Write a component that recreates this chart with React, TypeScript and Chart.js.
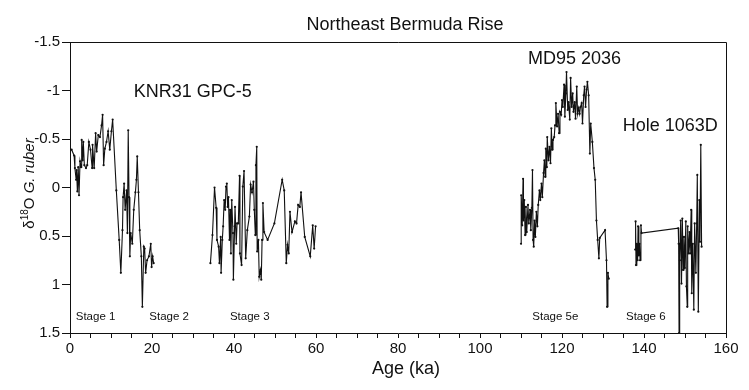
import React, { useEffect, useRef } from "react";
import { Chart, registerables } from "chart.js";

Chart.register(...registerables);

const knrAge = [0.4,1.0,1.2,1.5,1.6,1.8,2.0,2.2,2.45,2.7,2.85,3.1,3.25,3.5,3.9,4.2,4.6,5.0,5.4,5.5,5.9,6.25,6.5,6.9,7.3,7.7,7.95,8.2,8.5,8.9,9.3,9.7,10.1,10.4,11.3,12.0,12.4,12.8,12.95,13.2,13.45,13.8,14.0,14.2,14.4,14.6,14.8,15.2,15.55,15.95,16.2,16.4,16.7,17.0,17.4,17.65,18.0,18.2,18.45,18.8,19.25,19.7,19.9,20.15,20.4];
const knrD18O = [-0.39,-0.33,-0.20,-0.08,-0.18,0.04,-0.21,0.08,-0.27,-0.21,-0.49,-0.28,-0.47,-0.23,-0.20,-0.23,-0.47,-0.39,-0.20,-0.44,-0.20,-0.56,-0.37,-0.54,-0.52,-0.64,-0.75,-0.23,-0.40,-0.47,-0.58,-0.39,-0.58,-0.70,0.03,0.54,0.88,0.44,0.10,-0.04,0.23,0.03,0.47,-0.59,0.10,0.71,0.47,0.58,0.23,0.05,-0.08,-0.32,0.05,0.44,0.71,1.23,0.61,0.63,0.88,0.75,0.71,0.58,0.82,0.71,0.78];

const stage3Age = [34.25,34.75,35.25,35.65,35.85,36.25,36.45,36.75,36.85,37.15,37.35,37.6,37.85,38.05,38.25,38.45,38.65,38.9,39.05,39.25,39.45,39.75,39.85,40.15,40.25,40.55,40.75,41.05,41.35,41.45,41.85,42.15,42.45,42.85,43.25,43.75,44.05,44.4,44.75,44.95,45.2,45.35,45.55,45.65,45.95,46.15,46.45,46.65,46.85,47.05,47.35,48.2,49.85,51.75,52.25,52.75,53.05,53.35,53.65,54.15,54.85,55.25,55.65,56.05,56.35,57.25,58.6,59.2,59.55,59.9];
const stage3D18O = [0.78,0.49,0.0,0.21,0.54,0.61,0.78,0.51,0.88,0.54,0.40,0.13,0.23,-0.01,-0.04,0.20,0.10,0.54,0.23,0.68,0.13,0.47,0.95,0.40,0.20,0.58,0.37,0.37,-0.12,0.68,0.80,-0.01,-0.17,0.73,0.44,0.30,-0.03,0.05,-0.06,0.23,0.49,-0.23,-0.42,0.66,0.54,0.92,0.85,0.95,0.54,0.16,0.46,0.54,0.37,-0.08,0.03,0.78,0.59,0.68,0.25,0.46,0.35,0.37,0.18,0.20,0.05,0.51,0.71,0.39,0.63,0.40];

const mdAge = [110.0,110.05,110.3,110.5,110.6,110.8,111.0,111.2,111.4,111.7,111.9,112.2,112.4,112.65,112.8,112.95,113.1,113.3,113.5,113.75,114.0,114.2,114.5,114.7,115.0,115.2,115.5,115.7,115.9,116.05,116.3,116.4,116.7,116.95,117.2,117.4,117.6,117.8,118.1,118.3,118.5,118.8,119.05,119.3,119.5,119.8,120.0,120.2,120.5,120.7,120.95,121.1,121.4,121.6,121.9,122.1,122.35,122.6,122.8,123.1,123.3,123.6,123.8,124.05,124.3,124.5,124.8,125.0,125.3,125.5,125.75,126.0,126.2,126.5,126.8,127.0,127.4,127.8,128.1,128.4,128.7,129.0,129.2,130.5,130.85,131.0,131.2,131.4];
const mdD18O = [0.58,0.08,0.39,-0.09,0.34,0.13,0.49,0.20,0.46,0.18,0.37,0.23,0.44,0.21,-0.18,0.54,0.61,0.34,0.51,0.25,0.40,0.18,0.03,0.13,-0.04,0.10,-0.15,-0.28,-0.11,-0.40,-0.21,-0.52,-0.28,-0.42,-0.25,-0.61,-0.39,-0.49,-0.52,-0.64,-0.87,-0.63,-0.76,-0.56,-0.78,-0.75,-0.90,-0.83,-1.06,-0.73,-0.97,-1.19,-0.80,-0.88,-0.70,-1.13,-0.83,-0.97,-0.78,-0.88,-0.71,-1.04,-0.76,-0.82,-0.76,-0.83,-0.87,-0.66,-0.95,-1.04,-0.83,-1.01,-1.09,-0.95,-0.35,-0.66,-0.47,-0.20,-0.08,0.34,0.54,0.73,0.52,0.44,0.75,1.23,0.88,0.94];

const holeAge = [137.85,137.95,138.05,138.25,138.45,138.55,138.75,138.9,139.05,139.25,139.4,148.35,148.45,148.55,148.65,148.75,148.95,149.15,149.35,149.55,149.75,149.95,150.2,150.35,150.55,150.65,150.85,151.1,151.25,151.5,151.65,151.9,152.15,152.35,152.65,152.85,153.0,153.25,153.5,153.65,153.85,154.05];
const holeD18O = [0.64,0.35,0.80,0.58,0.75,0.40,0.70,0.58,0.75,0.39,0.47,0.42,0.58,1.50,0.58,0.75,0.34,0.99,0.32,0.85,0.51,0.83,0.35,1.02,1.23,0.40,0.68,0.46,0.68,0.23,1.09,0.58,1.26,0.37,0.88,0.37,-0.13,1.28,0.13,0.56,-0.44,0.61];

const xTicks = [0, 20, 40, 60, 80, 100, 120, 140, 160];
const yTicks = [-1.5, -1, -0.5, 0, 0.5, 1, 1.5];

const coreLabels = ["KNR31 GPC-5", "MD95 2036", "Hole 1063D"];
const coreLabelAge = [15.55, 111.7, 134.8];
const coreLabelD18O = [-0.98, -1.32, -0.63];

const stageLabels = ["Stage 1", "Stage 2", "Stage 3", "Stage 5e", "Stage 6"];
const stageLabelAge = [1.4, 19.35, 39.0, 112.75, 135.6];
const stageLabelD18O = [1.33, 1.33, 1.33, 1.33, 1.33];

const FONT = "'Liberation Sans', Arial, Helvetica, sans-serif";

const toPoints = (xs: number[], ys: number[]) => xs.map((x, i) => ({ x, y: ys[i] }));

const overlay = {
  id: "overlay",
  afterDraw(chart: any) {
    const { ctx, chartArea, scales } = chart;
    const xs = scales.x;
    const ys = scales.y;
    ctx.save();
    // frame top and right
    ctx.strokeStyle = "#111";
    ctx.lineWidth = 1;
    ctx.beginPath();
    ctx.moveTo(chartArea.left, chartArea.top + 0.5);
    ctx.lineTo(chartArea.right + 0.5, chartArea.top + 0.5);
    ctx.lineTo(chartArea.right + 0.5, chartArea.bottom);
    ctx.stroke();

    ctx.fillStyle = "#111";
    ctx.textBaseline = "middle";
    // title
    ctx.font = `18px ${FONT}`;
    ctx.textAlign = "center";
    ctx.fillText("Northeast Bermuda Rise", (chartArea.left + chartArea.right) / 2 + 7, 25);

    // core labels
    ctx.textAlign = "left";
    ctx.font = `18px ${FONT}`;
    coreLabels.forEach((t, i) => {
      ctx.fillText(t, xs.getPixelForValue(coreLabelAge[i]), ys.getPixelForValue(coreLabelD18O[i]));
    });
    // stage labels
    ctx.font = `11.5px ${FONT}`;
    stageLabels.forEach((t, i) => {
      ctx.fillText(t, xs.getPixelForValue(stageLabelAge[i]), ys.getPixelForValue(stageLabelD18O[i]));
    });

    // x axis title
    ctx.textAlign = "center";
    ctx.font = `18px ${FONT}`;
    ctx.fillText("Age (ka)", (chartArea.left + chartArea.right) / 2 + 8, 369);

    // y axis title (rotated) δ18O G. ruber
    ctx.translate(29, (chartArea.top + chartArea.bottom) / 2 - 4);
    ctx.rotate(-Math.PI / 2);
    const big = `15px ${FONT}`;
    const small = `10px ${FONT}`;
    const ital = `italic 15px ${FONT}`;
    ctx.font = big; const w1 = ctx.measureText("δ").width;
    ctx.font = small; const w2 = ctx.measureText("18").width;
    ctx.font = big; const w3 = ctx.measureText("O ").width;
    ctx.font = ital; const w4 = ctx.measureText("G. ruber").width;
    let px = -(w1 + w2 + w3 + w4) / 2;
    ctx.textAlign = "left";
    ctx.textBaseline = "alphabetic";
    ctx.font = big; ctx.fillText("δ", px, 5); px += w1;
    ctx.font = small; ctx.fillText("18", px, -1); px += w2;
    ctx.font = big; ctx.fillText("O ", px, 5); px += w3;
    ctx.font = ital; ctx.fillText("G. ruber", px, 5);
    ctx.restore();
  },
};

export default function App() {
  const ref = useRef<HTMLCanvasElement | null>(null);
  useEffect(() => {
    document.body.style.margin = "0";
    const canvas = ref.current;
    if (!canvas) return;
    const ds = (xs: number[], ys: number[]) => ({
      data: toPoints(xs, ys),
      showLine: true,
      borderColor: "#111",
      backgroundColor: "#111",
      borderWidth: 1.1,
      pointRadius: 1.1,
      pointBorderWidth: 0,
      pointBackgroundColor: "#111",
      tension: 0,
    });
    const chart = new Chart(canvas, {
      type: "scatter",
      data: {
        datasets: [
          ds(knrAge, knrD18O),
          ds(stage3Age, stage3D18O),
          ds(mdAge, mdD18O),
          ds(holeAge, holeD18O),
        ],
      },
      options: {
        responsive: false,
        animation: false,
        devicePixelRatio: 1,
        layout: { padding: { top: 42, right: 23, bottom: 0, left: 0 } },
        plugins: { legend: { display: false }, tooltip: { enabled: false }, title: { display: false } },
        scales: {
          x: {
            type: "linear",
            min: 0,
            max: 160,
            afterFit: (s: any) => { s.height = 57; },
            afterBuildTicks: (s: any) => {
              const t = [];
              for (let v = 0; v <= 160; v += 5) t.push({ value: v });
              s.ticks = t;
            },
            ticks: {
              autoSkip: false,
              maxRotation: 0,
              padding: 2,
              color: "#111",
              font: { family: FONT, size: 15 },
              callback: (v: any) => (xTicks.includes(Number(v)) ? String(v) : ""),
            },
            grid: { display: true, drawOnChartArea: false, drawTicks: true, tickLength: 5, color: "#111", lineWidth: 1 },
            border: { display: true, color: "#111", width: 1 },
          },
          y: {
            type: "linear",
            reverse: true,
            min: -1.5,
            max: 1.5,
            afterFit: (s: any) => { s.width = 70; },
            afterBuildTicks: (s: any) => { s.ticks = yTicks.map((v) => ({ value: v })); },
            ticks: {
              autoSkip: false,
              padding: 2,
              color: "#111",
              font: { family: FONT, size: 15 },
              callback: (v: any) => String(v),
            },
            grid: { display: true, drawOnChartArea: false, drawTicks: true, tickLength: 8, color: "#111", lineWidth: 1 },
            border: { display: true, color: "#111", width: 1 },
          },
        },
      },
      plugins: [overlay],
    });
    return () => chart.destroy();
  }, []);
  return (
    <div style={{ width: 749, height: 390 }}>
      <canvas ref={ref} width={749} height={390} style={{ display: "block", width: 749, height: 390 }} />
    </div>
  );
}
